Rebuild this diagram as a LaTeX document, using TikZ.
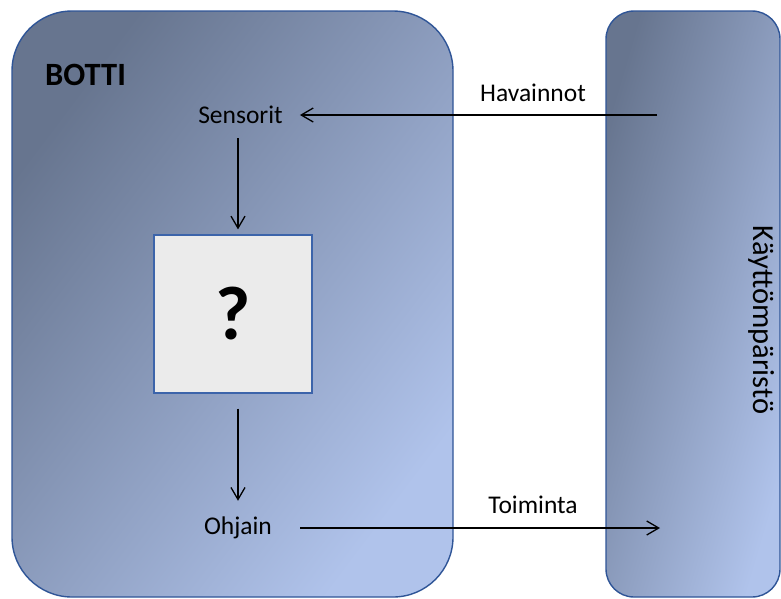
\documentclass[tikz,border=0pt]{standalone}
\usepackage{fontspec}
\setmainfont{Carlito}
\usetikzlibrary{arrows.meta,calc}

\definecolor{panelDark}{HTML}{67758F}
\definecolor{panelLight}{HTML}{B0C3EB}
\definecolor{panelEdge}{HTML}{2F5597}
\definecolor{boxFill}{HTML}{EBEBEB}
\definecolor{boxEdge}{HTML}{3C64AA}

\tikzset{
  panel/.style={draw=panelEdge, line width=1.4pt, top color=panelDark,
    bottom color=panelLight, inner sep=0pt},
  label/.style={inner sep=0pt, font=\fontsize{25.5}{30}\selectfont},
  conn/.style={line width=1.3pt, -{Straight Barb[length=12pt,width=14pt,line width=1.3pt]}},
}

\begin{document}
\begin{tikzpicture}[x=1pt,y=-1pt]
\useasboundingbox (0,0) rectangle (781,598);

% the agent and its surroundings; the gradient runs corner to corner
\node[panel, shading angle=53, rounded corners=60pt, minimum width=441pt, minimum height=586pt] (bot) at (232.5,304) {};
\node[panel, shading angle=73.5, rounded corners=28pt, minimum width=174pt, minimum height=586pt] (env) at (693,304) {};

\node[inner sep=0pt, anchor=west, font=\fontsize{32.5}{36}\bfseries\selectfont] (title) at (45,75) {BOTTI};
\node[inner sep=0pt, rotate=-90, font=\fontsize{30.5}{36}\selectfont] (envlabel) at (762,320) {Käyttömpäristö};

% unknown decision logic
\node[draw=boxEdge, fill=boxFill, line width=1.2pt, minimum width=158pt, minimum height=158pt, inner sep=0pt,
      font=\fontsize{76}{80}\bfseries\selectfont] (q) at (233,314) {?};

\node[label] (sens) at (240.5,115) {Sensorit};
\node[label] (ohj) at (238,528) {Ohjain};
\node[label] (hav) at (533,93) {Havainnot};
\node[label] (toim) at (533,505) {Toiminta};

\coordinate (percept) at (657,115);
\coordinate (act) at (660,528);

% signal flow
\draw[conn, shorten >=17pt] (percept) -- (sens.east);
\draw[conn, shorten <=14pt, shorten >=5pt] (sens.south -| ohj.north) -- (q.north -| ohj.north);
\draw[conn, shorten <=15pt, shorten >=16pt] (q.south -| ohj.north) -- (ohj.north);
\draw[conn, shorten <=28pt] (ohj.east) -- (act);
\end{tikzpicture}
\end{document}
